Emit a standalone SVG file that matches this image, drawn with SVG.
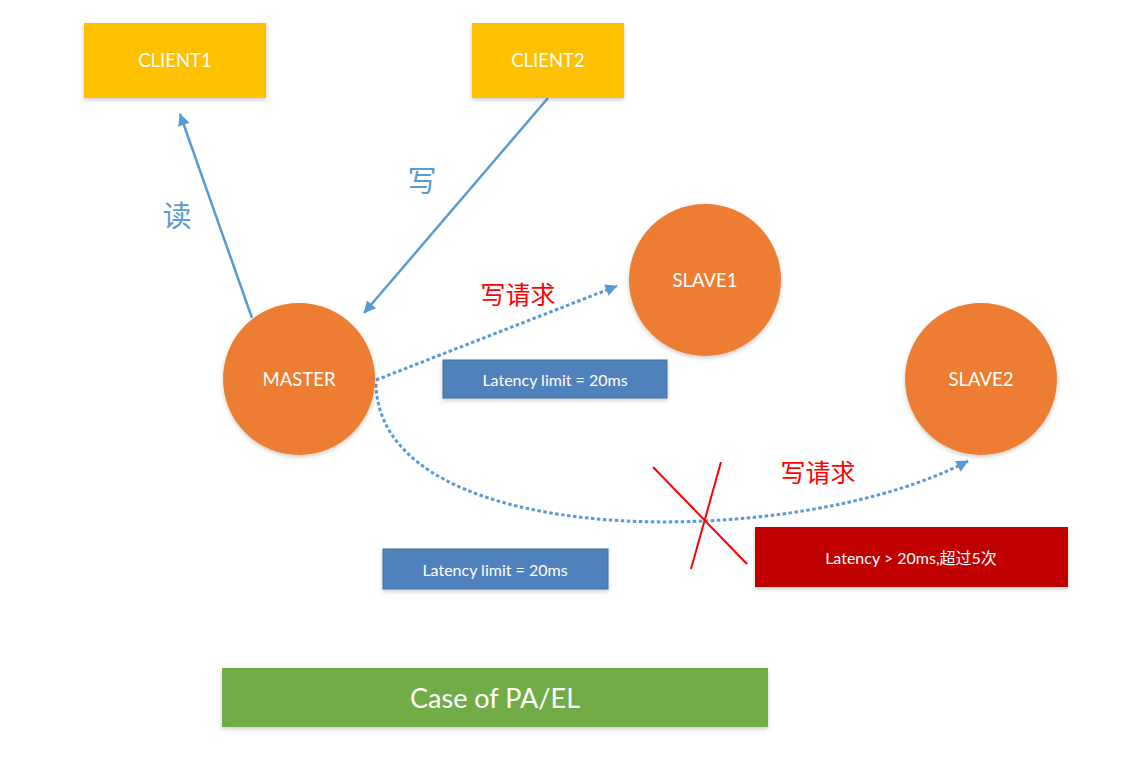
<svg xmlns="http://www.w3.org/2000/svg" width="1124" height="784" viewBox="0 0 1124 784">
<style>
text{font-family:"Lato","Noto Sans","Noto Sans CJK SC",sans-serif;text-anchor:middle;dominant-baseline:central}
.w{fill:#fff}
.client{fill:#FFC000}
.node{fill:#ED7D31}
.lat{fill:#4F81BD;stroke:#41719C;stroke-width:1}
.solid{stroke:#5B9BD5;stroke-width:2.5;fill:none}
.dot{stroke:#5B9BD5;stroke-width:3;fill:none;stroke-dasharray:3.5 2.5}
.blue{fill:#5B9BD5;font-size:29px}
.red{fill:#FF0000;font-size:25px}
</style>
<defs>
<marker id="ah" viewBox="0 0 10 10" refX="9" refY="5" markerWidth="6" markerHeight="6" orient="auto" markerUnits="userSpaceOnUse" style="overflow:visible">
<path d="M0,0 L10,5 L0,10 z" fill="#5B9BD5" transform="scale(2) translate(-5,-2.5)"/>
</marker>
<filter id="sh" x="-10%" y="-10%" width="120%" height="130%"><feDropShadow dx="0" dy="2" stdDeviation="2" flood-color="#000" flood-opacity="0.2"/></filter>
</defs>
<rect width="1124" height="784" fill="#fff"/>
<g id="connectors">
<line class="solid" x1="252" y1="318" x2="180" y2="114" marker-end="url(#ah)"/>
<line class="solid" x1="548" y1="98" x2="364" y2="313" marker-end="url(#ah)"/>
<line class="dot" x1="376" y1="380" x2="617" y2="286" marker-end="url(#ah)"/>
<path class="dot" d="M376,384 C380,555 800,550 968,461" marker-end="url(#ah)"/>
<text class="blue" x="177" y="215">读</text>
<text class="blue" x="422" y="180">写</text>
<text class="red" x="518" y="294">写请求</text>
<text class="red" x="818" y="472">写请求</text>
</g>
<g id="client1"><rect class="client" x="84" y="23" width="182" height="75" filter="url(#sh)"/><text class="w" x="175" y="60" font-size="18.5">CLIENT1</text></g>
<g id="client2"><rect class="client" x="472" y="23" width="152" height="75" filter="url(#sh)"/><text class="w" x="548" y="60" font-size="18.5">CLIENT2</text></g>
<g id="master"><circle class="node" cx="299" cy="379" r="76" filter="url(#sh)"/><text class="w" x="299" y="379" font-size="18.5">MASTER</text></g>
<g id="slave1"><circle class="node" cx="705" cy="280" r="76" filter="url(#sh)"/><text class="w" x="705" y="280" font-size="18.5">SLAVE1</text></g>
<g id="slave2"><circle class="node" cx="981" cy="379" r="76" filter="url(#sh)"/><text class="w" x="981" y="379" font-size="18.5">SLAVE2</text></g>
<g id="latency1"><rect class="lat" x="443" y="360" width="224" height="38" filter="url(#sh)"/><text class="w" x="555" y="379" font-size="16">Latency limit = 20ms</text></g>
<g id="latency2"><rect class="lat" x="383" y="549" width="225" height="40" filter="url(#sh)"/><text class="w" x="495" y="569" font-size="16">Latency limit = 20ms</text></g>
<g id="cross"><line x1="653" y1="467" x2="747" y2="564" stroke="#FF0000" stroke-width="2"/><line x1="721" y1="462" x2="691" y2="569" stroke="#FF0000" stroke-width="2"/></g>
<g id="latency-exceed"><rect x="755" y="527" width="313" height="60" fill="#C00000" filter="url(#sh)"/><text class="w" x="911" y="557" font-size="16">Latency &gt; 20ms,超过5次</text></g>
<g id="title"><rect x="222" y="668" width="546" height="59" fill="#70AD47" filter="url(#sh)"/><text class="w" x="495" y="697" font-size="27">Case of PA/EL</text></g>
</svg>
